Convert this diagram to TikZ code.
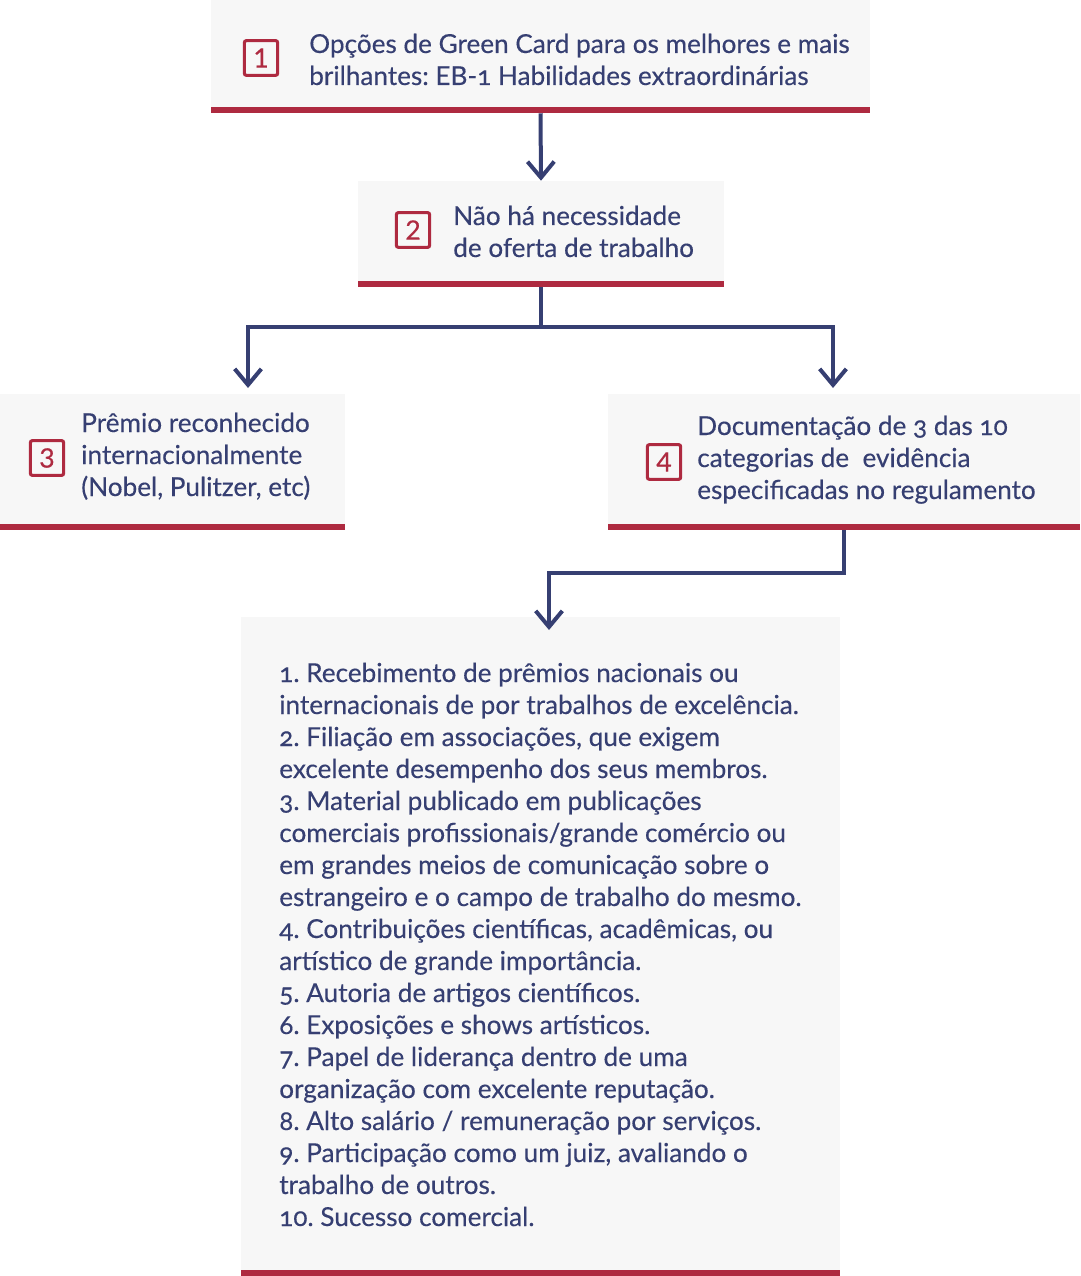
\documentclass[tikz,border=0pt]{standalone}
\usepackage{fontspec}
\setmainfont{Lato}[Numbers=OldStyle, FakeBold=0.3]
\usetikzlibrary{arrows.meta}
\definecolor{navy}{HTML}{363F72}
\definecolor{crim}{HTML}{AE2A40}
\definecolor{pale}{HTML}{F7F7F7}
\frenchspacing
\begin{document}
\begin{tikzpicture}[x=0.75pt,y=-0.75pt,
  card/.style={fill=pale, inner sep=0pt,
    path picture={\fill[crim] ([yshift=4.5pt]path picture bounding box.south west) rectangle (path picture bounding box.south east);}},
  txt/.style={anchor=base west, align=left, inner sep=0pt, text=navy, font=\fontsize{19.6}{24}\selectfont},
  num/.style={draw=crim, line width=2.3pt, rounded corners=1.5pt, minimum width=25pt, minimum height=26pt, inner sep=0pt, text=crim,
    font=\fontsize{20}{20}\selectfont\addfontfeatures{Numbers=Lining}},
  arr/.style={draw=navy, line width=3pt, -{Straight Barb[length=12pt,width=20pt]}},
  link/.style={draw=navy, line width=3pt}]
\useasboundingbox (0,0) rectangle (1080,1276);

% cards
\node[card, minimum width=659*0.75pt, minimum height=113*0.75pt] (b1) at (540.5,56.5) {};
\node[card, minimum width=366*0.75pt, minimum height=106*0.75pt] (b2) at (541,234) {};
\node[card, minimum width=345*0.75pt, minimum height=136*0.75pt] (b3) at (172.5,462) {};
\node[card, minimum width=472*0.75pt, minimum height=136*0.75pt] (b4) at (844,462) {};
\node[card, minimum width=599*0.75pt, minimum height=659*0.75pt] (b5) at (540.5,946.5) {};

% number badges
\node[num] (n1) at (261,58) {1};
\node[num] (n2) at (413,230) {2};
\node[num] (n3) at (47,458) {3};
\node[num] (n4) at (664,462) {4};

% texts (anchor = baseline of last line)
\node[txt] (t1) at (309,85) {Opções de Green Card para os melhores e mais\\brilhantes: EB-1 Habilidades extraordinárias};
\node[txt] (t2) at (453,257) {Não há necessidade\\de oferta de trabalho};
\node[txt] (t3) at (81,496) {Prêmio reconhecido\\internacionalmente\\(Nobel, Pulitzer, etc)};
\node[txt] (t4) at (697,499) {Documentação de 3 das 10\\categorias de\ \ evidência\\especificadas no regulamento};
\node[txt] (t5) at (279,1226) {1. Recebimento de prêmios nacionais ou\\
internacionais de por trabalhos de excelência.\\
2. Filiação em associações, que exigem\\
excelente desempenho dos seus membros.\\
3. Material publicado em publicações\\
comerciais profissionais/grande comércio ou\\
em grandes meios de comunicação sobre o\\
estrangeiro e o campo de trabalho do mesmo.\\
4. Contribuições científicas, acadêmicas, ou\\
artístico de grande importância.\\
5. Autoria de artigos científicos.\\
6. Exposições e shows artísticos.\\
7. Papel de liderança dentro de uma\\
organização com excelente reputação.\\
8. Alto salário / remuneração por serviços.\\
9. Participação como um juiz, avaliando o\\
trabalho de outros.\\
10. Sucesso comercial.};

% connector points
\coordinate (j2) at (541,327);
\coordinate (e3) at (248,388);
\coordinate (e4) at (833,388);
\coordinate (j4) at (844,573);
\coordinate (e5) at (549,630);

% connectors
\draw[arr] (b1.south) -- (b2.north);
\draw[link] (b2.south) -- (j2);
\draw[arr] (j2) -| (e3);
\draw[arr] (j2) -| (e4);
\draw[arr] (b4.south) -- (j4) -| (e5);
\end{tikzpicture}
\end{document}
